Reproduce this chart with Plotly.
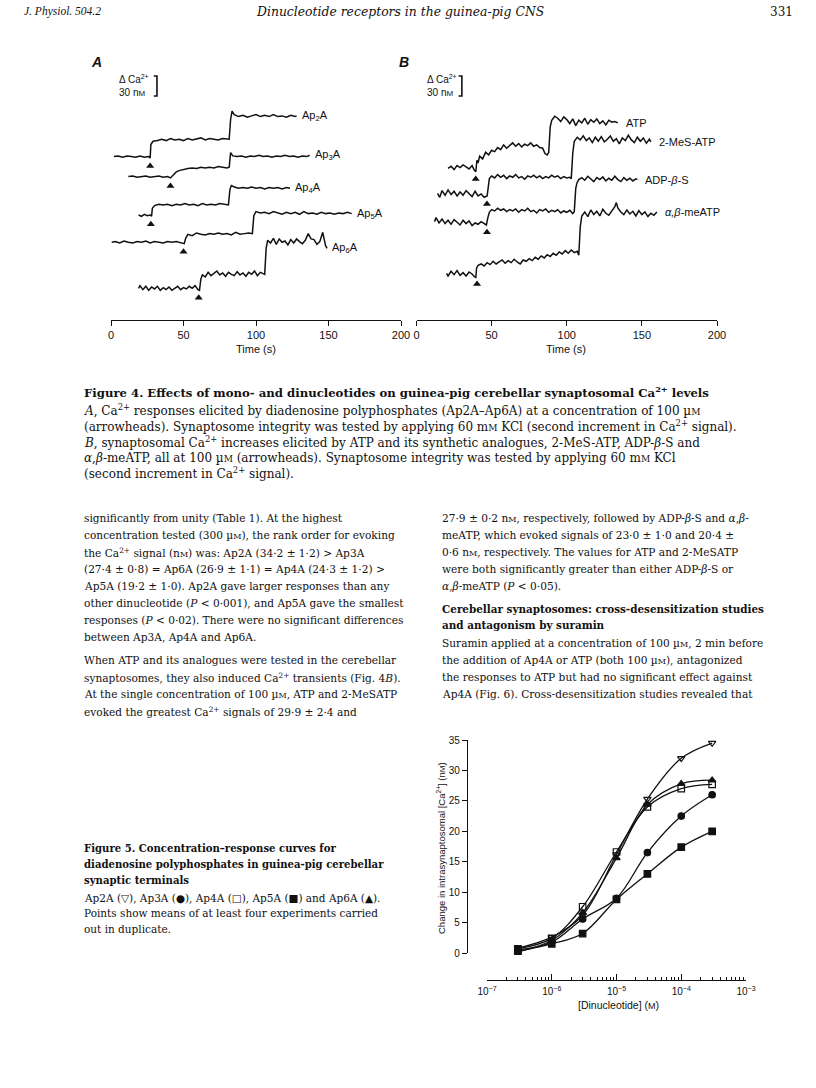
import math
import plotly.graph_objects as go

W, H = 816, 1088
def px(x): return x / W
def py(y): return 1 - y / H

# ---------------- Figure 4A: Ca2+ traces (time s, change in nM from baseline) ----------------
ap2a = [(2,0),(5,1),(8,-1),(11,1),(14,0),(17,-1),(20,1),(23,-1),(26,0),(27,-2),
        (27.5,18),(29,23),(32,24),(35,26),(38,24),(41,27),(44,25),(47,26),(50,24),(53,27),(56,25),(59,26),
        (62,28),(65,25),(68,27),(71,26),(74,25),(77,27),(80,26),(81.5,26),
        (82.5,56),(83.5,68),(85,63),(88,60),(91,62),(94,59),(97,61),(100,63),(103,60),(106,62),(109,60),
        (112,63),(115,60),(118,61),(121,59),(124,62),(127,60),(128,61)]
ap3a = [(12,0),(15,1),(18,-1),(21,0),(24,1),(27,-1),(30,0),(33,1),(36,-1),(39,0),(41,-2),
        (43,3),(45,7),(47,9),(50,11),(53,12),(56,13),(59,12),(62,14),(65,13),(68,14),(71,13),(74,15),
        (77,14),(80,13),(81.5,14),
        (82.5,36),(84,31),(87,30),(90,31),(93,29),(96,31),(99,30),(102,32),(105,30),(108,31),(111,29),
        (114,31),(117,30),(120,32),(123,30),(126,31),(129,29),(132,31),(135,30),(137,32)]
ap4a = [(19,0),(21,-2),(23,1),(25,-1),(27,0),(28,-2),
        (28.5,10),(30,14),(33,16),(36,15),(39,16),(42,14),(45,16),(48,15),(51,17),(54,15),(57,16),(60,14),
        (63,17),(66,15),(69,16),(72,15),(75,17),(78,16),(81,15),
        (82,38),(83,44),(85,42),(88,40),(91,41),(94,40),(97,42),(100,40),(103,41),(106,39),(109,41),
        (112,40),(115,41),(118,39),(121,41),(123.5,40)]
ap5a = [(0.5,0),(3,1),(6,-1),(9,2),(12,0),(15,-1),(18,1),(21,0),(24,2),(27,-1),(30,1),(33,0),(36,-1),
        (39,1),(42,0),(45,1),(48,-1),(50.5,-2),
        (51.5,6),(53,12),(56,10),(59,14),(62,12),(65,11),(68,13),(71,12),(74,14),(77,12),(80,13),(83,11),
        (86,15),(89,12),(92,13),(95,14),(97.5,13),
        (98.5,40),(100,46),(103,44),(106,45),(109,43),(112,46),(115,44),(118,42),(121,45),(124,43),(127,45),
        (130,42),(133,46),(136,43),(139,44),(142,42),(145,45),(148,43),(151,44),(154,42),(157,44),(160,43),
        (163,45),(166,43)]
ap6a = [(19,0),(20,4),(22,-2),(24,3),(26,-3),(28,2),(30,-1),(32,3),(34,-3),(36,1),(38,-2),(40,2),(42,-3),
        (44,0),(46,3),(48,-2),(50,1),(52,-1),(54,3),(56,0),(58,4),(60,-2),(61,-3),
        (62,14),(63,20),(65,17),(67,24),(69,19),(71,22),(73,26),(75,20),(77,23),(79,18),(81,24),(83,21),
        (85,19),(87,25),(89,20),(91,23),(93,18),(95,24),(97,21),(99,26),(101,19),(103,24),(105,22),(106,21),
        (107,60),(108,72),(110,68),(112,75),(114,66),(116,74),(118,69),(120,71),(122,65),(124,73),(126,68),
        (128,74),(130,70),(132,67),(134,72),(136,82),(138,74),(140,73),(142,66),(144,70),(146,84),(148,64),
        (149,60)]
tracesA = [("Ap<sub>2</sub>A", ap2a), ("Ap<sub>3</sub>A", ap3a), ("Ap<sub>4</sub>A", ap4a),
           ("Ap<sub>5</sub>A", ap5a), ("Ap<sub>6</sub>A", ap6a)]
arrowA_t = [27, 41, 27.5, 50, 60.5]          # agonist application (s)
offsetA = [245, 215, 157.5, 116.5, 47.5]      # vertical stacking of traces (nM)

# ---------------- Figure 4B ----------------
atp = [(21,0),(23,3),(25,-2),(27,4),(29,1),(31,5),(33,2),(35,-1),(37,4),(38.5,-3),(39.5,-5),
       (40.2,12),(41,8),(42,18),(44,14),(46,24),(48,20),(50,27),(52,25),(54,31),(56,28),(58,35),(60,30),
       (62,34),(64,38),(66,33),(68,37),(70,32),(72,36),(74,34),(76,38),(78,33),(80,35),(82,31),(84,30),
       (85.5,22),(87,20),(88,24),
       (89,62),(90,72),(92,78),(94,75),(96,70),(98,77),(100,73),(102,67),(104,74),(106,64),(108,72),
       (110,68),(112,75),(114,66),(116,73),(118,69),(120,74),(122,67),(124,71),(126,65),(128,72),(130,69),
       (132,70),(134,68)]
mes_atp = [(14,0),(15.5,-6),(17,4),(19,-3),(21,5),(23,-2),(25,3),(27,-4),(29,2),(31,-3),(33,4),(35,0),
           (37,-5),(39,3),(41,-4),(43,-1),(45,-6),(47,-4),
           (47.8,14),(48.5,22),(50,26),(52,23),(54,28),(56,24),(58,27),(60,22),(62,26),(64,24),(66,28),
           (68,23),(70,25),(72,21),(74,26),(76,24),(78,27),(80,23),(82,26),(84,22),(86,25),(88,23),(90,27),
           (92,24),(94,26),(96,22),(98,25),(100,23),(102,24),(103,22),
           (104,60),(105,78),(107,84),(109,80),(111,86),(113,79),(115,83),(117,76),(119,84),(121,78),
           (123,85),(125,77),(127,81),(129,86),(131,78),(133,82),(135,74),(137,83),(139,79),(141,87),
           (143,80),(145,76),(147,84),(149,78),(151,83),(153,75),(155,81),(156,77)]
adp_bs = [(12,0),(13,6),(15,-2),(17,4),(19,-3),(21,2),(23,-4),(25,3),(27,-1),(29,-5),(31,2),(33,-3),
          (35,1),(37,-6),(39,-2),(41,-4),(43,0),(45,-3),(46.5,-5),
          (47.5,6),(48.5,14),(50,18),(52,16),(54,20),(56,17),(58,19),(60,15),(62,18),(64,16),(66,19),
          (68,14),(70,18),(72,16),(74,20),(76,15),(78,17),(80,13),(82,18),(84,16),(86,19),(88,14),(90,17),
          (92,15),(94,18),(96,13),(98,16),(100,14),(102,17),(104,12),(105,15),
          (106,50),(106.8,58),(108,63),(110,66),(112,62),(114,68),(116,64),(118,60),(120,66),(122,63),
          (124,67),(126,61),(128,65),(130,62),(132,68),(134,63),(136,60),(138,66),(140,62),(142,65),
          (144,61),(146,64),(147,63)]
ab_meatp = [(20,0),(21,-4),(23,3),(25,-2),(27,4),(29,-3),(31,1),(33,-4),(35,2),(37,-1),(38.5,-5),(39.5,-6),
            (40,8),(41,12),(43,14),(45,11),(47,16),(49,13),(51,18),(53,14),(55,17),(57,20),(59,15),(61,19),
            (63,16),(65,21),(67,17),(69,14),(71,20),(73,18),(75,22),(77,19),(79,24),(81,21),(83,26),(85,23),
            (87,28),(89,25),(91,30),(93,27),(95,32),(97,29),(99,34),(101,30),(103,35),(105,31),(107,33),
            (108,27),
            (109,70),(110,86),(112,92),(114,85),(116,95),(118,88),(120,93),(122,86),(124,96),(126,90),
            (128,87),(130,94),(132,100),(133,106),(134,98),(136,92),(138,88),(140,95),(142,89),(144,93),
            (146,86),(148,94),(150,88),(152,92),(154,85),(156,90),(158,87),(160,92)]
tracesB = [("ATP", atp), ("2-MeS-ATP", mes_atp), ("ADP-<i>β</i>-S", adp_bs), ("<i>α,β</i>-meATP", ab_meatp)]
arrowB_t = [39.4, 46.9, 46.9, 40.3]
offsetB = [227.5, 190, 147.5, 70]

time_ticks = [0, 50, 100, 150, 200]
scale_bar_nM = 30

# ---------------- Figure 5: concentration-response ----------------
conc = [3e-7, 1e-6, 3e-6, 1e-5, 3e-5, 1e-4, 3e-4]
resp_ap2a = [0.8, 2.6, 6.2, 16.2, 25.3, 32.0, 34.5]
resp_ap3a = [0.5, 1.8, 5.6, 9.0, 16.5, 22.5, 26.0]
resp_ap4a = [0.7, 2.4, 7.6, 16.6, 24.0, 27.0, 27.7]
resp_ap5a = [0.3, 1.5, 3.2, 8.8, 13.0, 17.4, 20.0]
resp_ap6a = [0.2, 2.1, 6.6, 15.6, 24.4, 27.8, 28.4]
fig5_names = ["Ap<sub>2</sub>A", "Ap<sub>3</sub>A", "Ap<sub>4</sub>A", "Ap<sub>5</sub>A", "Ap<sub>6</sub>A"]
fig5_symbols = ["triangle-down-open", "circle", "square-open", "square", "triangle-up"]
fig5_label_shift = [0.3, -0.5, 0.0, 0.0, 1.4]
y5_ticks = [0, 5, 10, 15, 20, 25, 30, 35]
x5_major = [1e-7, 1e-6, 1e-5, 1e-4, 1e-3]
x5_labels = ["10<sup>−7</sup>", "10<sup>−6</sup>", "10<sup>−5</sup>", "10<sup>−4</sup>", "10<sup>−3</sup>"]
x5_minor = [k * 10.0 ** e for e in range(-7, -3) for k in range(2, 10)]

SANS = "Liberation Sans, Arial, sans-serif"
SERIF = "DejaVu Serif, serif"
SERIF_N = "Liberation Serif, serif"
BLACK = "#111111"

fig = go.Figure()

NM_PX = 0.667                      # page pixels per nM in figure 4
def nm_at(ypix):                   # page pixel -> nM on the panel y axes (0 nM at y=320)
    return (320 - ypix) / NM_PX

for (name, data), t_arr, off in zip(tracesA, arrowA_t, offsetA):
    t = [p[0] for p in data]; v = [p[1] + off for p in data]
    fig.add_trace(go.Scatter(x=t, y=v, mode="lines", line=dict(color=BLACK, width=1.5),
                             xaxis="x", yaxis="y", hoverinfo="skip", cliponaxis=False))
    fig.add_trace(go.Scatter(x=[t_arr], y=[off - 14], mode="markers",
                             marker=dict(symbol="triangle-up", size=7, color=BLACK),
                             xaxis="x", yaxis="y", cliponaxis=False))
    fig.add_annotation(x=t[-1] + 2, y=v[-1], xref="x", yref="y", text=name, showarrow=False,
                       xanchor="left", yanchor="middle", font=dict(family=SANS, size=11, color=BLACK))
for (name, data), t_arr, off in zip(tracesB, arrowB_t, offsetB):
    t = [p[0] for p in data]; v = [p[1] + off for p in data]
    fig.add_trace(go.Scatter(x=t, y=v, mode="lines", line=dict(color=BLACK, width=1.5),
                             xaxis="x2", yaxis="y2", hoverinfo="skip", cliponaxis=False))
    fig.add_trace(go.Scatter(x=[t_arr], y=[off - 16], mode="markers",
                             marker=dict(symbol="triangle-up", size=7, color=BLACK),
                             xaxis="x2", yaxis="y2", cliponaxis=False))
    fig.add_annotation(x=t[-1] + 4, y=v[-1], xref="x2", yref="y2", text=name, showarrow=False,
                       xanchor="left", yanchor="middle", font=dict(family=SANS, size=11, color=BLACK))

# scale bars
for xa, ya, tbar, lx in [("x", "y", 31.7, 117), ("x2", "y2", 30.2, 425)]:
    top = nm_at(76); bot = top - scale_bar_nM
    fig.add_trace(go.Scatter(x=[tbar - 2.2, tbar, tbar, tbar - 2.2], y=[top, top, bot, bot], mode="lines",
                             line=dict(color=BLACK, width=1.6), xaxis=xa, yaxis=ya, cliponaxis=False))
    fig.add_annotation(x=px(lx), y=py(79), xref="paper", yref="paper", text="Δ Ca<sup>2+</sup>",
                       showarrow=False, xanchor="left", yanchor="middle", font=dict(family=SANS, size=10, color=BLACK))
    fig.add_annotation(x=px(lx), y=py(93), xref="paper", yref="paper",
                       text="30 n<span style='font-size:8px'>M</span>",
                       showarrow=False, xanchor="left", yanchor="middle", font=dict(family=SANS, size=10, color=BLACK))

for name, sym, vals, shift in zip(fig5_names, fig5_symbols,
                                  [resp_ap2a, resp_ap3a, resp_ap4a, resp_ap5a, resp_ap6a], fig5_label_shift):
    fig.add_trace(go.Scatter(x=conc, y=vals, mode="lines+markers",
                             line=dict(color=BLACK, width=1.3, shape="spline", smoothing=1.0),
                             marker=dict(symbol=sym, size=6.5, color=BLACK, line=dict(color=BLACK, width=1.2)),
                             xaxis="x3", yaxis="y3", cliponaxis=False))
    fig.add_annotation(x=math.log10(conc[-1]) + 0.55, y=vals[-1] + shift, xref="x3", yref="y3", text=name,
                       showarrow=False, xanchor="left", yanchor="middle",
                       font=dict(family=SANS, size=10, color=BLACK))

axis_common = dict(showgrid=False, zeroline=False, showline=True, linecolor=BLACK, linewidth=1.3,
                   tickcolor=BLACK, tickfont=dict(family=SANS, size=11, color=BLACK))
fig.update_layout(
    width=W, height=H, margin=dict(l=0, r=0, t=0, b=0), template="none",
    paper_bgcolor="white", plot_bgcolor="rgba(0,0,0,0)", showlegend=False,
    xaxis=dict(domain=[px(111), px(401)], range=[0, 200], anchor="free", position=py(320),
               tickvals=time_ticks, ticks="outside", ticklen=5, tickwidth=1.2, **axis_common),
    yaxis=dict(domain=[py(320), py(55)], range=[0, nm_at(55)], visible=False, anchor="x"),
    xaxis2=dict(domain=[px(416.5), px(717)], range=[0, 200], anchor="free", position=py(320),
                tickvals=time_ticks, ticks="outside", ticklen=5, tickwidth=1.2, **axis_common),
    yaxis2=dict(domain=[py(320), py(55)], range=[0, nm_at(55)], visible=False, anchor="x2"),
    xaxis3=dict(type="log", domain=[px(487), px(746)], range=[-7, -3], anchor="free", position=py(980),
                tickvals=x5_major, ticktext=x5_labels, ticks="inside", ticklen=6, tickwidth=1.2,
                ticklabelstandoff=2,
                minor=dict(tickvals=x5_minor, ticks="inside", ticklen=3, tickwidth=1, tickcolor=BLACK),
                showgrid=False, zeroline=False, showline=True, linecolor=BLACK, linewidth=1.3,
                tickcolor=BLACK, tickfont=dict(family=SANS, size=10, color=BLACK)),
    yaxis3=dict(domain=[py(953), py(740)], range=[0, 35], anchor="free", position=px(467),
                tickvals=y5_ticks, ticks="outside", ticklen=5, tickwidth=1.2,
                showgrid=False, zeroline=False, showline=True, linecolor=BLACK, linewidth=1.3,
                tickcolor=BLACK, tickfont=dict(family=SANS, size=10, color=BLACK)),
)

def note(x, y, text, size=10.6, family=SERIF, anchor="left", angle=0):
    fig.add_annotation(x=px(x), y=py(y), xref="paper", yref="paper", text=text, showarrow=False,
                       xanchor=anchor, yanchor="middle", textangle=angle,
                       font=dict(family=family, size=size, color=BLACK))

SC = lambda s, n=8: f"<span style='font-size:{n}px'>{s}</span>"
CA = "Ca<sup>2+</sup>"

# header
note(22, 12, "<i>J. Physiol.</i> <i>504.2</i>", size=11.5, family=SERIF_N)
note(400, 12, "<i>Dinucleotide receptors in the guinea-pig CNS</i>", size=12.4, anchor="center")
note(795, 12, "331", size=12, anchor="right")

# panel letters and axis titles
note(96, 62, "<b><i>A</i></b>", size=14, family=SANS, anchor="center")
note(404, 62, "<b><i>B</i></b>", size=14, family=SANS, anchor="center")
note(256, 349, "Time (s)", size=11, family=SANS, anchor="center")
note(566, 349, "Time (s)", size=11, family=SANS, anchor="center")

# figure 4 caption
uM9 = "µ" + SC("M", 9); mM9 = "m" + SC("M", 9)
cap4 = [
    f"<b>Figure 4. Effects of mono- and dinucleotides on guinea-pig cerebellar synaptosomal {CA} levels</b>",
    f"<i>A</i>, {CA} responses elicited by diadenosine polyphosphates (Ap2A–Ap6A) at a concentration of 100 {uM9}",
    f"(arrowheads). Synaptosome integrity was tested by applying 60 {mM9} KCl (second increment in {CA} signal).",
    f"<i>B</i>, synaptosomal {CA} increases elicited by ATP and its synthetic analogues, 2-MeS-ATP, ADP-<i>β</i>-S and",
    f"<i>α</i>,<i>β</i>-meATP, all at 100 {uM9} (arrowheads). Synaptosome integrity was tested by applying 60 {mM9} KCl",
    f"(second increment in {CA} signal).",
]
cap4_size = [11.7, 12, 12, 12, 12, 12]
for line, y, s in zip(cap4, [392, 410, 426, 442, 458, 473], cap4_size):
    note(82, y, line, size=s)

nM = "n" + SC("M"); uM = "µ" + SC("M")
left_col = [
    "significantly from unity (Table 1). At the highest",
    f"concentration tested (300 {uM}), the rank order for evoking",
    f"the {CA} signal ({nM}) was: Ap2A (34·2 ± 1·2) &gt; Ap3A",
    "(27·4 ± 0·8) = Ap6A (26·9 ± 1·1) = Ap4A (24·3 ± 1·2) &gt;",
    "Ap5A (19·2 ± 1·0). Ap2A gave larger responses than any",
    "other dinucleotide (<i>P</i> &lt; 0·001), and Ap5A gave the smallest",
    "responses (<i>P</i> &lt; 0·02). There were no significant differences",
    "between Ap3A, Ap4A and Ap6A.",
    "When ATP and its analogues were tested in the cerebellar",
    f"synaptosomes, they also induced {CA} transients (Fig. 4<i>B</i>).",
    f"At the single concentration of 100 {uM}, ATP and 2-MeSATP",
    f"evoked the greatest {CA} signals of 29·9 ± 2·4 and",
]
left_y = [518, 535, 552, 569, 586, 603, 620, 637, 660, 677, 694, 711]
for line, y in zip(left_col, left_y):
    note(82, y, line, size=10.6)

right_col = [
    f"27·9 ± 0·2 {nM}, respectively, followed by ADP-<i>β</i>-S and <i>α</i>,<i>β</i>-",
    "meATP, which evoked signals of 23·0 ± 1·0 and 20·4 ±",
    f"0·6 {nM}, respectively. The values for ATP and 2-MeSATP",
    "were both significantly greater than either ADP-<i>β</i>-S or",
    "<i>α</i>,<i>β</i>-meATP (<i>P</i> &lt; 0·05).",
    "<b>Cerebellar synaptosomes: cross-desensitization studies</b>",
    "<b>and antagonism by suramin</b>",
    f"Suramin applied at a concentration of 100 {uM}, 2 min before",
    f"the addition of Ap4A or ATP (both 100 {uM}), antagonized",
    "the responses to ATP but had no significant effect against",
    "Ap4A (Fig. 6). Cross-desensitization studies revealed that",
]
right_y = [518, 535, 552, 569, 586, 609, 625, 643, 660, 677, 694]
right_size = [10.6] * 5 + [10.4, 10.4] + [10.6] * 4
for line, y, s in zip(right_col, right_y, right_size):
    note(440, y, line, size=s)

cap5 = [
    "<b>Figure 5. Concentration–response curves for</b>",
    "<b>diadenosine polyphosphates in guinea-pig cerebellar</b>",
    "<b>synaptic terminals</b>",
    "Ap2A (▽), Ap3A (●), Ap4A (□), Ap5A (■) and Ap6A (▲).",
    "Points show means of at least four experiments carried",
    "out in duplicate.",
]
cap5_size = [10.1, 10.1, 10.1, 10.5, 10.5, 10.5]
for line, y, s in zip(cap5, [848, 864, 880, 898, 913, 929], cap5_size):
    note(82, y, line, size=s)

# figure 5 axis titles
note(441, 848, "Change in intrasynaptosomal [" + CA + "] (n" + SC("M", 8) + ")", size=9.5, family=SANS,
     anchor="center", angle=-90)
note(618, 1005, "[Dinucleotide] (" + SC("M", 9) + ")", size=10.5, family=SANS, anchor="center")

fig.write_html("out.html", config={"displayModeBar": False},
               post_script="document.body.style.margin='0px';")
